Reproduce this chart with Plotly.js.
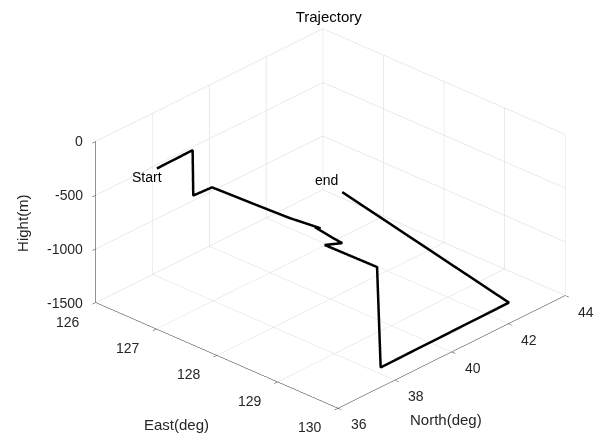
<!DOCTYPE html>
<html>
<head>
<meta charset="utf-8">
<script src="https://cdn.plot.ly/plotly-3.0.1.min.js"></script>
<style>html,body{margin:0;padding:0;background:#fff;}#chart{width:601px;height:437px;}</style>
</head>
<body>
<div id="chart"></div>
<script>
// Trajectory samples (East deg, North deg, Height m)
const east  = [126.92, 126.91, 126.92, 126.94, 127.70, 128.17, 128.50, 128.62, 128.55, 128.90, 129.07, 128.95, 129.80, 129.85, 129.83, 129.06];
const north = [36.19, 37.47, 37.47, 38.09, 38.16, 38.21, 38.30, 38.33, 38.28, 38.17, 38.13, 37.77, 37.80, 37.82, 42.38, 38.15];
const hight = [-50, -50, -470, -470, -470, -470, -470, -470, -470, -470, -470, -470, -470, -1395, -1395, 0];

const eastTicks  = [126, 127, 128, 129, 130];
const northTicks = [36, 38, 40, 42, 44];
const hightTicks = [-1500, -1000, -500, 0];
const eastRange = [126, 130];
const northRange = [36, 44];
const hightRange = [-1500, 0];

const labelStart = 'Start';
const labelEnd = 'end';
const titleText = 'Trajectory';
const eastTitle = 'East(deg)';
const northTitle = 'North(deg)';
const hightTitle = 'Hight(m)';

const FONT = 'Arial, "Liberation Sans", Helvetica, sans-serif';
const TXT = '#262626';
const GRID = '#d6d6d6';

function ax(ticks, range) {
  return {
    range: range, tickvals: ticks, showticklabels: false,
    showgrid: true, gridcolor: GRID, gridwidth: 1,
    zeroline: false,
    showline: true, linecolor: TXT, linewidth: 1,
    ticks: 'outside', ticklen: 5, tickcolor: TXT,
    showbackground: false, showspikes: false,
    title: {text: ''}
  };
}

const tickFont = {family: FONT, size: 14, color: TXT};
const anns = [];
eastTicks.forEach(v => anns.push({x: v, y: northRange[0], z: hightRange[0], text: String(v), showarrow: false,
  xanchor: 'center', yanchor: 'middle', xshift: -28, yshift: -19, font: tickFont}));
northTicks.forEach(v => anns.push({x: eastRange[1], y: v, z: hightRange[0], text: String(v), showarrow: false,
  xanchor: 'center', yanchor: 'middle', xshift: 21, yshift: -16, font: tickFont}));
hightTicks.forEach(v => anns.push({x: eastRange[0], y: northRange[0], z: v, text: String(v), showarrow: false,
  xanchor: 'right', yanchor: 'middle', xshift: -11, yshift: 0, font: tickFont}));
const midE = (eastRange[0] + eastRange[1]) / 2, midN = (northRange[0] + northRange[1]) / 2, midH = (hightRange[0] + hightRange[1]) / 2;
anns.push({x: midE, y: northRange[0], z: hightRange[0], text: eastTitle, showarrow: false,
  xanchor: 'center', yanchor: 'middle', xshift: -40, yshift: -69, font: {family: FONT, size: 15, color: TXT}});
anns.push({x: eastRange[1], y: midN, z: hightRange[0], text: northTitle, showarrow: false,
  xanchor: 'center', yanchor: 'middle', xshift: -6, yshift: -68, font: {family: FONT, size: 15, color: TXT}});
anns.push({x: eastRange[0], y: northRange[0], z: midH, text: hightTitle, showarrow: false, textangle: -90,
  xanchor: 'center', yanchor: 'middle', xshift: -74, yshift: -1, font: {family: FONT, size: 15, color: TXT}});
const n = east.length;
anns.push({x: east[0], y: north[0], z: hight[0], text: labelStart, showarrow: false,
  xanchor: 'center', yanchor: 'middle', xshift: -10, yshift: -9, font: {family: FONT, size: 14, color: '#000'}});
anns.push({x: east[n-1], y: north[n-1], z: hight[n-1], text: labelEnd, showarrow: false,
  xanchor: 'center', yanchor: 'middle', xshift: -16, yshift: 12, font: {family: FONT, size: 14, color: '#000'}});

const data = [{
  type: 'scatter3d', mode: 'lines',
  x: east, y: north, z: hight,
  line: {color: '#000000', width: 5},
  hoverinfo: 'skip'
}];

const layout = {
  width: 601, height: 437,
  margin: {l: 0, r: 0, t: 0, b: 0},
  paper_bgcolor: '#ffffff',
  showlegend: false,
  title: {text: titleText, font: {family: FONT, size: 15, color: '#000'}, x: 0.547, xanchor: 'center', y: 0.961, yanchor: 'middle'},
  scene: {
    domain: {x: [0.1, 1.0], y: [0, 1]},
    aspectmode: 'manual',
    aspectratio: {x: 1.52, y: 1.52, z: 0.833},
    camera: {
      projection: {type: 'orthographic'},
      eye: {x: 0.797, y: -0.850, z: 0.613},
      up: {x: 0, y: 0, z: 1},
      center: {x: 0, y: 0, z: 0}
    },
    xaxis: ax(eastTicks, eastRange),
    yaxis: ax(northTicks, northRange),
    zaxis: ax(hightTicks, hightRange),
    annotations: anns
  }
};

Plotly.newPlot('chart', data, layout, {displayModeBar: false});
</script>
</body>
</html>
